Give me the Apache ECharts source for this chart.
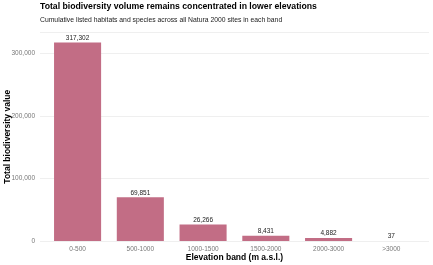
<!DOCTYPE html>
<html>
<head>
<meta charset="utf-8">
<script src="https://cdn.jsdelivr.net/npm/echarts@6/dist/echarts.min.js"></script>
<style>
  html, body { margin: 0; padding: 0; background: #fff; }
  #chart { width: 433px; height: 265px; }
</style>
</head>
<body>
<div id="chart"></div>
<script>
var bands = ['0-500', '500-1000', '1000-1500', '1500-2000', '2000-3000', '>3000'];
var totals = [317302, 69851, 26266, 8431, 4882, 37];
var yTicks = [0, 100000, 200000, 300000];

var yMax = 333167;
var fontFam = '"Liberation Sans", Arial, sans-serif';

var option = {
    animation: false,
    textStyle: { fontFamily: fontFam },
    title: [
        {
            text: 'Total biodiversity volume remains concentrated in lower elevations',
            left: 40, top: 2.5, padding: 0,
            textStyle: { fontSize: 8.7, fontWeight: 'bold', color: '#000', fontFamily: fontFam }
        },
        {
            text: 'Cumulative listed habitats and species across all Natura 2000 sites in each band',
            left: 40, top: 16.5, padding: 0,
            textStyle: { fontSize: 6.8, fontWeight: 'normal', color: '#222', fontFamily: fontFam }
        }
    ],
    grid: [
        // panel: gridlines + y labels
        { left: 40, right: 4, top: 32.5, bottom: 24, outerBoundsMode: 'none' },
        // bars
        { left: 46.2, right: 10.3, top: 32.5, bottom: 24, outerBoundsMode: 'none' }
    ],
    xAxis: [
        { type: 'value', gridIndex: 0, show: false, min: 0, max: 1 },
        {
            type: 'category', gridIndex: 1, data: bands,
            axisLine: { show: false }, axisTick: { show: false },
            axisLabel: { fontSize: 6.5, color: '#777', margin: 5, interval: 0 },
            name: 'Elevation band (m a.s.l.)', nameLocation: 'middle', nameGap: 12,
            nameMoveOverlap: false,
            nameTextStyle: { fontSize: 8.5, fontWeight: 'bold', color: '#000' }
        }
    ],
    yAxis: [
        {
            type: 'value', gridIndex: 0, min: 0, max: yMax, interval: 100000,
            axisLine: { show: false }, axisTick: { show: false },
            axisLabel: {
                fontSize: 6.5, color: '#777', margin: 5,
                customValues: yTicks,
                formatter: function (v) { return v.toLocaleString('en-US'); }
            },
            splitLine: { lineStyle: { color: '#ebebeb', width: 0.8 } },
            name: 'Total biodiversity value', nameLocation: 'middle', nameGap: 28,
            nameMoveOverlap: false,
            nameTextStyle: { fontSize: 8.5, fontWeight: 'bold', color: '#000' }
        },
        { type: 'value', gridIndex: 1, min: 0, max: yMax, show: false }
    ],
    series: [
        {
            type: 'bar', xAxisIndex: 1, yAxisIndex: 1,
            barWidth: '75%',
            data: totals,
            itemStyle: { color: '#c26d85' },
            label: {
                show: true, position: 'top', distance: 1,
                fontSize: 6.5, color: '#222',
                formatter: function (p) { return p.value.toLocaleString('en-US'); }
            }
        }
    ]
};

var chart = echarts.init(document.getElementById('chart'));
chart.setOption(option);
</script>
</body>
</html>
